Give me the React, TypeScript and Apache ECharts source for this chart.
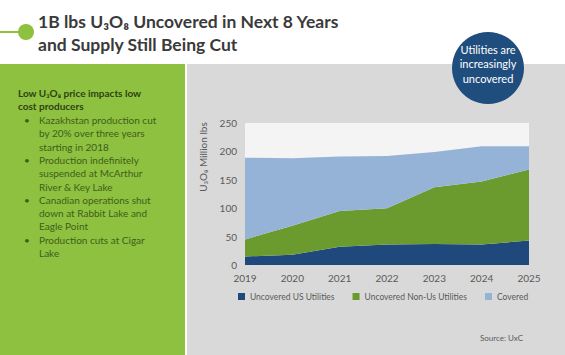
import React, { useEffect, useRef } from "react";
import * as echarts from "echarts";

const years = ["2019", "2020", "2021", "2022", "2023", "2024", "2025"];
const uncoveredUS = [15, 18, 32, 36, 37, 36, 43];
const uncoveredNonUS = [30, 51, 63, 64, 100, 111, 125];
const covered = [144, 119, 96, 92, 62, 62, 41];
const yTicks = [0, 50, 100, 150, 200, 250];

const titleLines = ["1B lbs U₃O₈ Uncovered in Next 8 Years", "and Supply Still Being Cut"];
const sideHeading = ["Low U₃O₈ price impacts low", "cost producers"];
const bullets = [
  ["Kazakhstan production cut", "by 20% over three years", "starting in 2018"],
  ["Production indefinitely", "suspended at McArthur", "River & Key Lake"],
  ["Canadian operations shut", "down at Rabbit Lake and", "Eagle Point"],
  ["Production cuts at Cigar", "Lake"],
];
const badgeLines = ["Utilities are", "increasingly", "uncovered"];

const FONT = "Lato, 'Open Sans', sans-serif";

export default function App() {
  const ref = useRef<HTMLDivElement>(null);
  useEffect(() => {
    const chart = echarts.init(ref.current!, null, { renderer: "svg" });
    const graphics: any[] = [];
    graphics.push({ type: "rect", z: -10, shape: { x: 0, y: 64, width: 185, height: 291 }, style: { fill: "#8dc13f" } });
    graphics.push({ type: "rect", z: -10, shape: { x: 187, y: 64, width: 378, height: 291 }, style: { fill: "#d9d9d9" } });
    graphics.push({ type: "line", shape: { x1: 0, y1: 32, x2: 22, y2: 32 }, style: { stroke: "#8dc13f", lineWidth: 2 } });
    graphics.push({ type: "circle", shape: { cx: 26, cy: 32, r: 8 }, style: { fill: "#8dc13f" } });
    titleLines.forEach((t, i) => {
      graphics.push({
        type: "text", x: 38, y: 21 + i * 23,
        style: { text: t, fill: "#3a3a3a", font: `bold 17.5px ${FONT}`, verticalAlign: "middle" },
      });
    });
    graphics.push({ type: "circle", shape: { cx: 488, cy: 68, r: 36 }, style: { fill: "#1f4e7e" } });
    badgeLines.forEach((t, i) => {
      graphics.push({
        type: "text", x: 488, y: 49 + i * 14.5,
        style: { text: t, fill: "#ffffff", font: `11px ${FONT}`, align: "center", verticalAlign: "middle" },
      });
    });
    sideHeading.forEach((t, i) => {
      graphics.push({
        type: "text", x: 18, y: 93 + i * 13,
        style: { text: t, fill: "#2e4214", font: `bold 10px ${FONT}`, verticalAlign: "middle" },
      });
    });
    let ly = 120;
    bullets.forEach((b) => {
      graphics.push({
        type: "text", x: 24, y: ly,
        style: { text: "•", fill: "#3f5e1c", font: `10px ${FONT}`, verticalAlign: "middle" },
      });
      b.forEach((t) => {
        graphics.push({
          type: "text", x: 39, y: ly,
          style: { text: t, fill: "#3f5e1c", font: `10px ${FONT}`, verticalAlign: "middle" },
        });
        ly += 13.3;
      });
    });
    graphics.push({
      type: "text", x: 203, y: 157, rotation: Math.PI / 2,
      style: { text: "U₃O₈ Million lbs", fill: "#595959", font: `10px ${FONT}`, align: "center", verticalAlign: "middle" },
    });
    graphics.push({
      type: "text", x: 523, y: 338,
      style: { text: "Source: UxC", fill: "#595959", font: `8px ${FONT}`, align: "right", verticalAlign: "middle" },
    });

    const mk = (name: string, data: number[], color: string) => ({
      name, type: "line", stack: "total", data, symbol: "none",
      lineStyle: { width: 0 }, areaStyle: { color, opacity: 1 }, itemStyle: { color },
    });

    chart.setOption({
      animation: false,
      textStyle: { fontFamily: FONT },
      graphic: graphics,
      grid: { left: 245, right: 36, top: 123, bottom: 90, show: true, backgroundColor: "#f4f4f4", borderWidth: 0 },
      xAxis: {
        type: "category", data: years, boundaryGap: false,
        axisLine: { show: false }, axisTick: { show: false },
        axisLabel: { color: "#595959", fontSize: 10, margin: 8 },
      },
      yAxis: {
        type: "value", min: 0, max: yTicks[yTicks.length - 1], interval: 50,
        axisLine: { show: false }, axisTick: { show: false }, splitLine: { show: false },
        axisLabel: { color: "#595959", fontSize: 10, margin: 8 },
      },
      legend: {
        top: 287, left: 233, width: 330, itemWidth: 7, itemHeight: 7, itemGap: 18,
        icon: "rect",
        textStyle: { color: "#595959", fontSize: 8.5, fontFamily: FONT },
        data: ["Uncovered US Utilities", "Uncovered Non-Us Utilities", "Covered"],
      },
      series: [
        mk("Uncovered US Utilities", uncoveredUS, "#1f497d"),
        mk("Uncovered Non-Us Utilities", uncoveredNonUS, "#6b9a2f"),
        mk("Covered", covered, "#95b3d7"),
      ],
    });
    return () => chart.dispose();
  }, []);
  return <div ref={ref} style={{ position: "fixed", left: 0, top: 0, width: 565, height: 355, background: "#ffffff" }} />;
}
